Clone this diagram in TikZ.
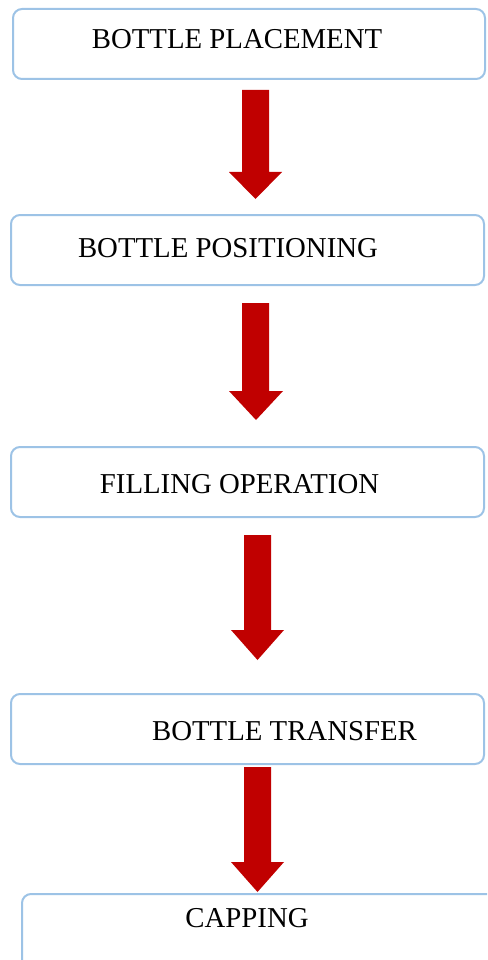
\documentclass[tikz,border=0pt]{standalone}
\usepackage{fontspec}
\setmainfont{Liberation Serif}
\begin{document}
\begin{tikzpicture}[x=1pt,y=-1pt,
  stepbox/.style={draw=boxblue,line width=2pt,rounded corners=9pt,fill=white},
  steptext/.style={anchor=base,inner sep=0pt,font=\fontsize{28.8}{30}\selectfont,text=black},
  bigarrow/.style={fill=arrowred,draw=none}]
\definecolor{boxblue}{HTML}{9DC3E6}
\definecolor{arrowred}{HTML}{C00000}
\useasboundingbox (0,0) rectangle (487,960);
\clip (0,0) rectangle (487,960);
% boxes
\draw[stepbox] (13,9) rectangle (485,79);
\node[steptext] (t1) at (237,49) {BOTTLE PLACEMENT};
\draw[stepbox] (11,215) rectangle (484,285);
\node[steptext] (t2) at (228,257) {BOTTLE POSITIONING};
\draw[stepbox] (11,447) rectangle (484,517);
\node[steptext] (t3) at (239.5,493) {FILLING OPERATION};
\draw[stepbox] (11,694) rectangle (484,764);
\node[steptext] (t4) at (284.5,740) {BOTTLE TRANSFER};
\draw[stepbox] (22,894) rectangle (500,990);
\node[steptext] (t5) at (247,927) {CAPPING};
% arrows
\fill[bigarrow] (242,90) -- (269,90) -- (269,172) -- (282,172) -- (255.5,199) -- (229,172) -- (242,172) -- cycle;
\fill[bigarrow] (242,303) -- (269,303) -- (269,391) -- (283,391) -- (256,420) -- (229,391) -- (242,391) -- cycle;
\fill[bigarrow] (244,535) -- (271,535) -- (271,630) -- (284,630) -- (257.5,660) -- (231,630) -- (244,630) -- cycle;
\fill[bigarrow] (244,767) -- (271,767) -- (271,862) -- (284,862) -- (257.5,892) -- (231,862) -- (244,862) -- cycle;
\end{tikzpicture}
\end{document}
